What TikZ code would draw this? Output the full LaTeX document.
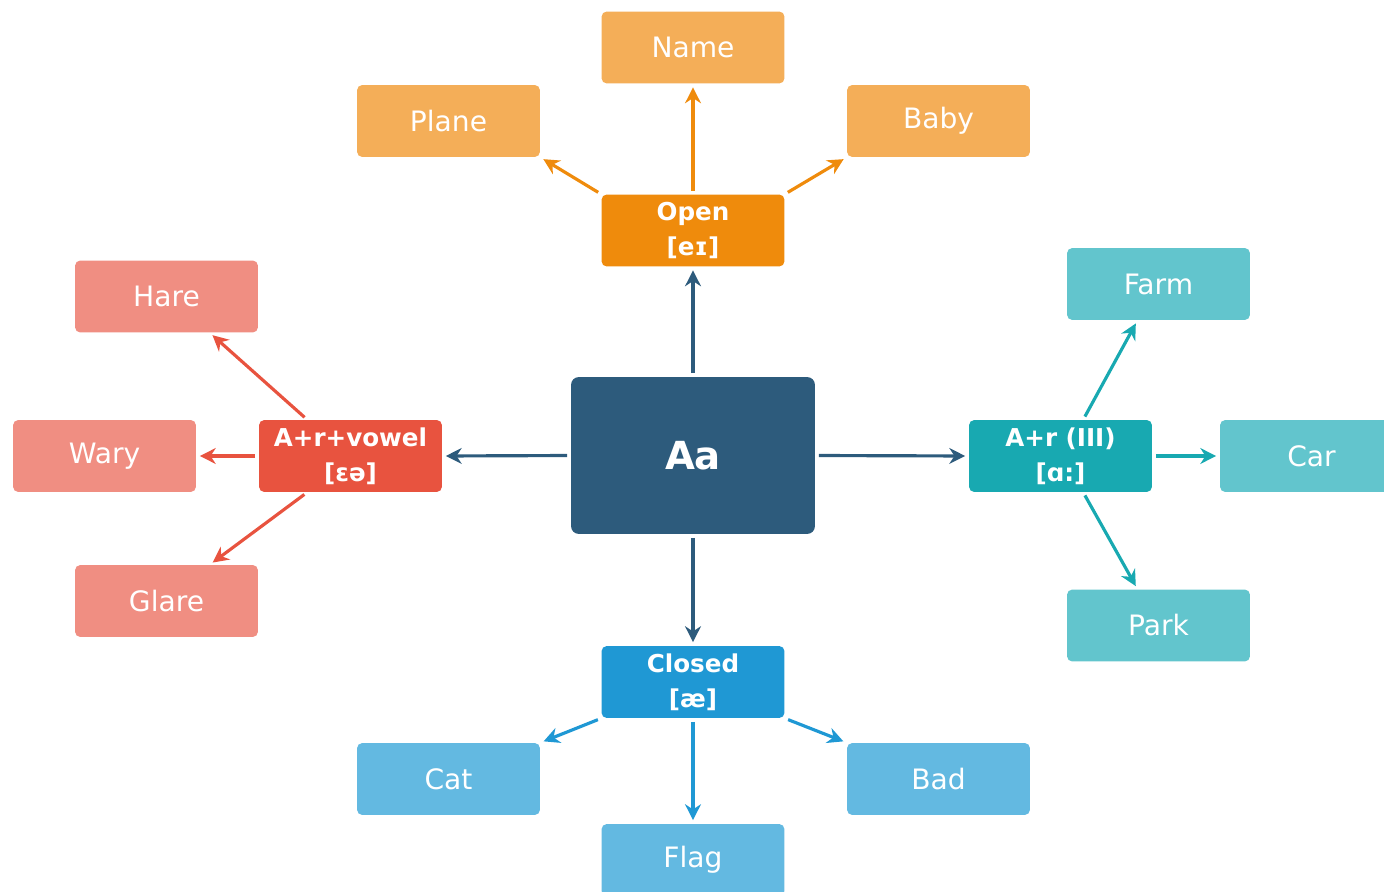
\documentclass[tikz,border=0pt]{standalone}
\usepackage{fontspec}
\setmainfont{DejaVu Sans}
\usetikzlibrary{arrows.meta}

\definecolor{aablue}{HTML}{2D5B7C}
\definecolor{openor}{HTML}{EF8B0C}
\definecolor{openlt}{HTML}{F4AE58}
\definecolor{vowred}{HTML}{E8533F}
\definecolor{vowlt}{HTML}{F08E82}
\definecolor{armteal}{HTML}{18A9B1}
\definecolor{armlt}{HTML}{62C5CD}
\definecolor{clsblue}{HTML}{1F98D4}
\definecolor{clslt}{HTML}{63B9E1}

\tikzset{
  box/.style={rounded corners=3pt, minimum width=3.66cm, minimum height=1.44cm,
    inner sep=0pt, text=white, align=center},
  leaf/.style={box, font=\fontsize{16}{19}\selectfont},
  mid/.style={box, font=\bfseries\fontsize{14}{20}\selectfont},
  link/.style={line width=1.8pt, shorten <=2pt, shorten >=2pt,
    -{Stealth[length=9pt,width=9pt]}}
}

\begin{document}
\begin{tikzpicture}[x=0.02cm,y=-0.02cm]
\useasboundingbox (0,0) rectangle (1384,892);
\clip (0,0) rectangle (1384,892);

% centre
\node[box, fill=aablue, rounded corners=4.5pt, minimum width=4.88cm, minimum height=3.14cm,
  font=\bfseries\fontsize{22}{26}\selectfont] (aa) at (693,455.5) {Aa};

% the four sounds
\node[mid, fill=openor] (open) at (693,230.5) {Open\\{}[eɪ]};
\node[mid, fill=vowred] (vowel) at (350.5,456) {A+r+vowel\\{}[ɛə]};
\node[mid, fill=armteal] (armr) at (1060.5,456) {A+r (III)\\{}[ɑ:]};
\node[mid, fill=clsblue] (closed) at (693,682) {Closed\\{}[æ]};

% words
\foreach \nm/\px/\py/\txt in {name/693/47.5/Name, plane/448.5/121/Plane, baby/938.5/121/Baby}
  \node[leaf, fill=openlt] (\nm) at (\px,\py) {\txt};
\foreach \nm/\px/\py/\txt in {hare/166.5/296.5/Hare, wary/104.5/456/Wary, glare/166.5/601/Glare}
  \node[leaf, fill=vowlt] (\nm) at (\px,\py) {\txt};
\foreach \nm/\px/\py/\txt in {farm/1158.5/284/Farm, car/1311.5/456/Car, park/1158.5/625.5/Park}
  \node[leaf, fill=armlt] (\nm) at (\px,\py) {\txt};
\foreach \nm/\px/\py/\txt in {cat/448.5/779/Cat, flag/693/860/Flag, bad/938.5/779/Bad}
  \node[leaf, fill=clslt] (\nm) at (\px,\py) {\txt};

% arrows
\foreach \a/\b in {north/open.south, west/vowel.east, east/armr.west, south/closed.north}
  \draw[link, aablue] (aa.\a) -- (\b);
\foreach \a/\b in {north/name.south, north west/plane.south east, north east/baby.south west}
  \draw[link, openor] (open.\a) -- (\b);
\foreach \a/\b in {140/hare.-40, west/wary.east, -140/glare.40}
  \draw[link, vowred] (vowel.\a) -- (\b);
\foreach \a/\b in {58/farm.-120, east/car.west, -58/park.120}
  \draw[link, armteal] (armr.\a) -- (\b);
\foreach \a/\b in {south west/cat.north east, south/flag.north, south east/bad.north west}
  \draw[link, clsblue] (closed.\a) -- (\b);
\end{tikzpicture}
\end{document}
